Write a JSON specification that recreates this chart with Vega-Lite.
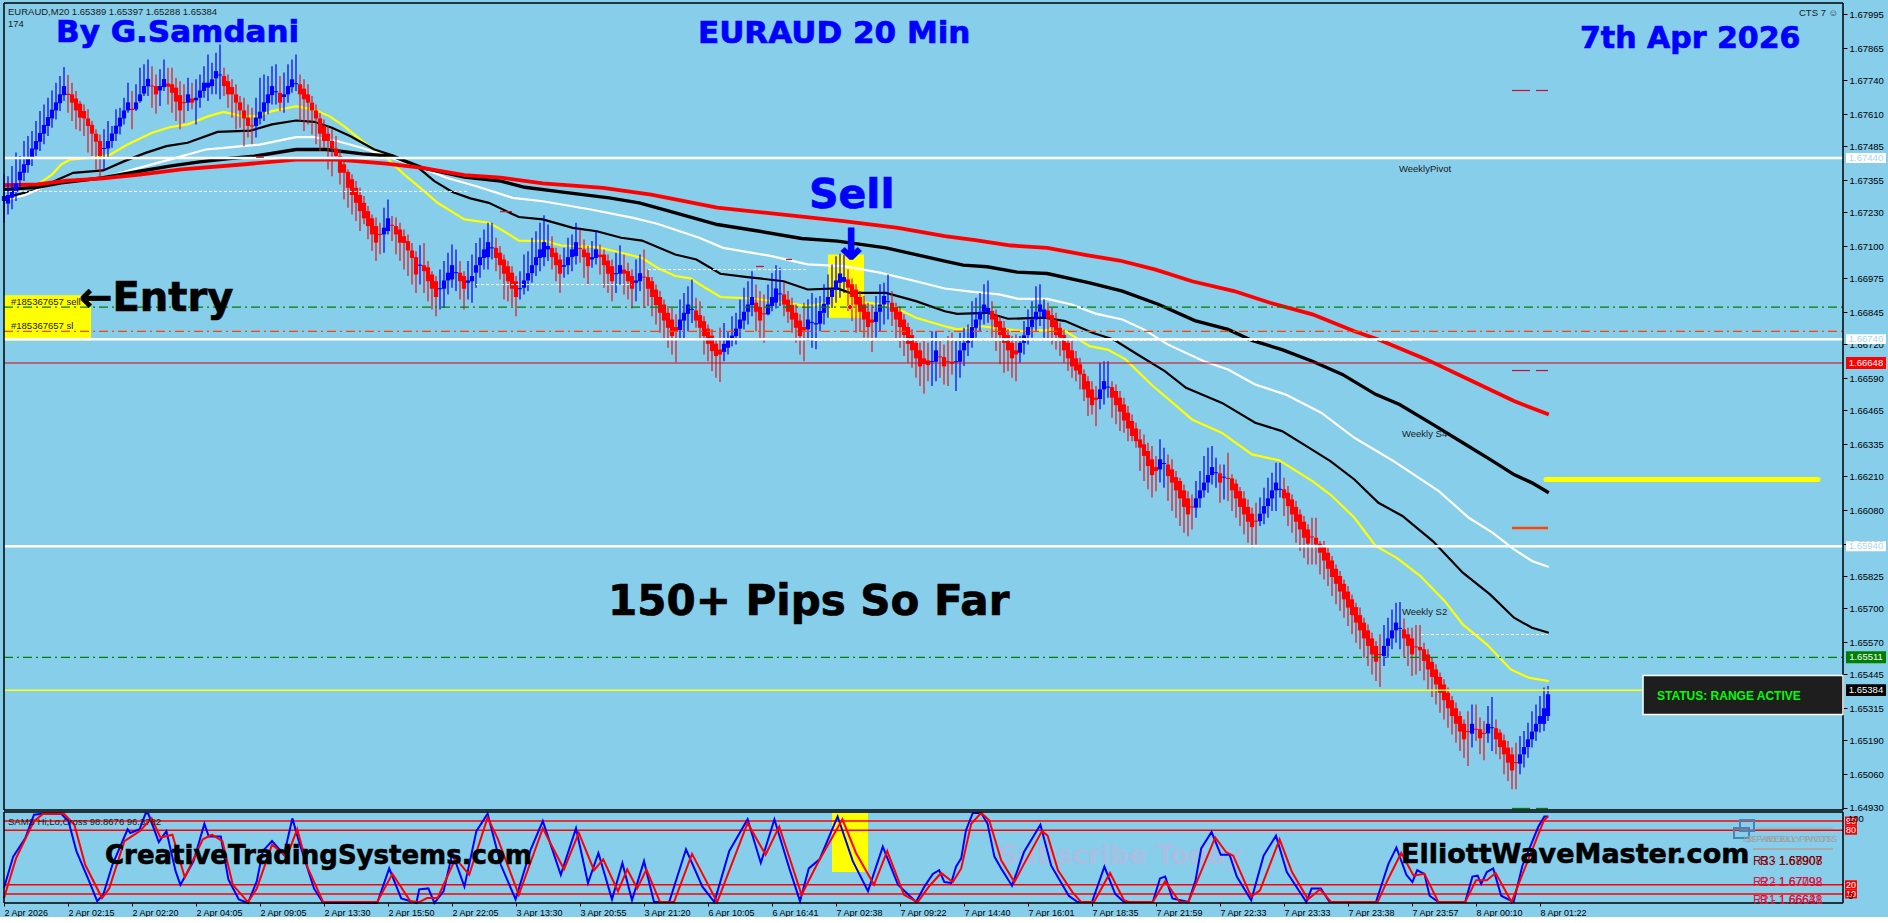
{"background":"#87CEEB","padding":{"left":-4,"top":2,"right":0,"bottom":0},"bounds":"flush","spacing":2,"config":{"view":{"stroke":null}},
"datasets":{
"bars":[{"i":0,"o":1.67274,"c":1.67293,"h":1.67377,"l":1.6719},{"i":1,"o":1.67264,"c":1.67297,"h":1.6737,"l":1.67222},{"i":2,"o":1.67287,"c":1.67315,"h":1.67409,"l":1.67242},{"i":3,"o":1.6731,"c":1.67341,"h":1.67461,"l":1.67274},{"i":4,"o":1.67354,"c":1.67387,"h":1.67448,"l":1.67325},{"i":5,"o":1.67383,"c":1.67416,"h":1.67506,"l":1.67351},{"i":6,"o":1.67413,"c":1.67444,"h":1.67525,"l":1.67383},{"i":7,"o":1.67444,"c":1.67477,"h":1.67544,"l":1.67409},{"i":8,"o":1.67473,"c":1.67506,"h":1.67583,"l":1.67448},{"i":9,"o":1.67503,"c":1.67537,"h":1.67622,"l":1.67467},{"i":10,"o":1.67534,"c":1.67568,"h":1.67647,"l":1.67493},{"i":11,"o":1.67564,"c":1.67598,"h":1.67673,"l":1.67525},{"i":12,"o":1.67593,"c":1.67627,"h":1.67701,"l":1.67557},{"i":13,"o":1.67624,"c":1.67655,"h":1.67731,"l":1.67589},{"i":14,"o":1.67652,"c":1.67686,"h":1.67757,"l":1.67622},{"i":15,"o":1.67683,"c":1.67718,"h":1.67792,"l":1.6766},{"i":16,"o":1.67688,"c":1.67684,"h":1.67761,"l":1.67615},{"i":17,"o":1.67686,"c":1.67654,"h":1.67731,"l":1.67583},{"i":18,"o":1.6767,"c":1.67624,"h":1.67699,"l":1.67551},{"i":19,"o":1.6765,"c":1.67596,"h":1.6766,"l":1.67544},{"i":20,"o":1.67622,"c":1.67593,"h":1.67647,"l":1.67525},{"i":21,"o":1.67593,"c":1.67564,"h":1.67628,"l":1.67461},{"i":22,"o":1.67568,"c":1.67534,"h":1.67583,"l":1.67448},{"i":23,"o":1.67534,"c":1.67503,"h":1.67551,"l":1.67396},{"i":24,"o":1.67506,"c":1.67448,"h":1.67531,"l":1.6737},{"i":25,"o":1.67475,"c":1.67479,"h":1.67551,"l":1.67396},{"i":26,"o":1.67477,"c":1.67506,"h":1.67583,"l":1.67441},{"i":27,"o":1.67506,"c":1.67535,"h":1.67564,"l":1.6748},{"i":28,"o":1.67534,"c":1.67565,"h":1.67628,"l":1.67506},{"i":29,"o":1.67562,"c":1.67596,"h":1.67634,"l":1.67531},{"i":30,"o":1.67593,"c":1.67624,"h":1.67673,"l":1.6757},{"i":31,"o":1.67624,"c":1.67655,"h":1.67731,"l":1.67615},{"i":32,"o":1.6763,"c":1.67626,"h":1.67699,"l":1.67551},{"i":33,"o":1.67628,"c":1.67655,"h":1.67725,"l":1.67622},{"i":34,"o":1.6766,"c":1.67686,"h":1.67789,"l":1.67654},{"i":35,"o":1.67689,"c":1.67718,"h":1.67802,"l":1.6768},{"i":36,"o":1.67717,"c":1.67746,"h":1.67821,"l":1.6768},{"i":37,"o":1.6772,"c":1.67716,"h":1.67795,"l":1.67634},{"i":38,"o":1.67718,"c":1.67686,"h":1.67763,"l":1.67611},{"i":39,"o":1.67701,"c":1.67718,"h":1.67783,"l":1.67641},{"i":40,"o":1.67714,"c":1.67745,"h":1.67821,"l":1.67699},{"i":41,"o":1.67728,"c":1.67716,"h":1.67789,"l":1.67647},{"i":42,"o":1.67725,"c":1.67692,"h":1.67789,"l":1.67615},{"i":43,"o":1.67712,"c":1.67658,"h":1.6775,"l":1.67583},{"i":44,"o":1.67683,"c":1.67624,"h":1.67737,"l":1.67551},{"i":45,"o":1.67656,"c":1.67652,"h":1.67725,"l":1.67576},{"i":46,"o":1.67654,"c":1.67686,"h":1.6775,"l":1.67622},{"i":47,"o":1.6767,"c":1.67654,"h":1.67731,"l":1.67628},{"i":48,"o":1.67663,"c":1.67673,"h":1.67744,"l":1.6757},{"i":49,"o":1.67673,"c":1.67701,"h":1.67763,"l":1.67634},{"i":50,"o":1.67699,"c":1.67731,"h":1.67795,"l":1.67673},{"i":51,"o":1.67712,"c":1.67731,"h":1.6784,"l":1.6766},{"i":52,"o":1.67718,"c":1.67744,"h":1.67808,"l":1.67686},{"i":53,"o":1.67748,"c":1.67776,"h":1.67847,"l":1.67686},{"i":54,"o":1.67759,"c":1.67763,"h":1.67879,"l":1.67667},{"i":55,"o":1.67757,"c":1.67718,"h":1.67789,"l":1.6768},{"i":56,"o":1.67737,"c":1.67686,"h":1.67763,"l":1.67634},{"i":57,"o":1.67714,"c":1.67686,"h":1.67744,"l":1.67596},{"i":58,"o":1.67686,"c":1.67654,"h":1.67725,"l":1.67551},{"i":59,"o":1.67655,"c":1.67624,"h":1.6768,"l":1.67557},{"i":60,"o":1.67624,"c":1.67593,"h":1.67673,"l":1.67486},{"i":61,"o":1.67596,"c":1.67564,"h":1.67647,"l":1.67519},{"i":62,"o":1.67566,"c":1.67562,"h":1.67634,"l":1.67493},{"i":63,"o":1.67564,"c":1.67596,"h":1.67673,"l":1.67519},{"i":64,"o":1.67593,"c":1.67619,"h":1.6775,"l":1.6757},{"i":65,"o":1.67619,"c":1.67655,"h":1.67763,"l":1.67583},{"i":66,"o":1.67652,"c":1.67686,"h":1.67757,"l":1.67609},{"i":67,"o":1.67683,"c":1.67718,"h":1.67795,"l":1.67647},{"i":68,"o":1.67694,"c":1.67698,"h":1.67802,"l":1.67647},{"i":69,"o":1.67692,"c":1.67654,"h":1.67757,"l":1.67622},{"i":70,"o":1.67676,"c":1.67686,"h":1.6777,"l":1.67615},{"i":71,"o":1.67686,"c":1.67718,"h":1.67802,"l":1.67654},{"i":72,"o":1.67714,"c":1.67744,"h":1.67821,"l":1.67692},{"i":73,"o":1.67725,"c":1.67729,"h":1.6784,"l":1.67699},{"i":74,"o":1.67725,"c":1.67686,"h":1.67763,"l":1.67583},{"i":75,"o":1.67708,"c":1.67667,"h":1.67744,"l":1.67544},{"i":76,"o":1.67686,"c":1.67654,"h":1.67725,"l":1.6757},{"i":77,"o":1.67654,"c":1.67624,"h":1.6768,"l":1.67531},{"i":78,"o":1.67624,"c":1.67593,"h":1.67647,"l":1.67493},{"i":79,"o":1.67593,"c":1.67534,"h":1.67615,"l":1.67467},{"i":80,"o":1.67564,"c":1.67506,"h":1.67589,"l":1.6748},{"i":81,"o":1.67534,"c":1.67506,"h":1.67564,"l":1.67396},{"i":82,"o":1.67506,"c":1.67477,"h":1.67551,"l":1.6737},{"i":83,"o":1.67477,"c":1.67448,"h":1.67525,"l":1.67428},{"i":84,"o":1.67448,"c":1.67383,"h":1.67473,"l":1.67338},{"i":85,"o":1.67416,"c":1.67383,"h":1.67428,"l":1.6728},{"i":86,"o":1.67386,"c":1.67325,"h":1.67396,"l":1.67248},{"i":87,"o":1.67358,"c":1.67297,"h":1.67377,"l":1.67222},{"i":88,"o":1.67325,"c":1.67267,"h":1.67351,"l":1.67197},{"i":89,"o":1.67297,"c":1.67235,"h":1.67325,"l":1.67158},{"i":90,"o":1.67267,"c":1.67207,"h":1.67293,"l":1.67184},{"i":91,"o":1.67235,"c":1.67177,"h":1.67255,"l":1.67126},{"i":92,"o":1.67207,"c":1.67145,"h":1.67222,"l":1.67081},{"i":93,"o":1.67177,"c":1.67113,"h":1.6721,"l":1.67042},{"i":94,"o":1.67147,"c":1.67143,"h":1.6719,"l":1.67068},{"i":95,"o":1.67145,"c":1.67171,"h":1.67248,"l":1.67074},{"i":96,"o":1.67158,"c":1.67207,"h":1.6728,"l":1.67145},{"i":97,"o":1.67182,"c":1.67178,"h":1.67216,"l":1.67119},{"i":98,"o":1.67177,"c":1.67145,"h":1.6721,"l":1.67068},{"i":99,"o":1.67164,"c":1.67113,"h":1.6719,"l":1.67042},{"i":100,"o":1.67138,"c":1.67112,"h":1.67164,"l":1.67009},{"i":101,"o":1.67119,"c":1.67083,"h":1.67145,"l":1.66984},{"i":102,"o":1.67083,"c":1.67054,"h":1.67112,"l":1.66951},{"i":103,"o":1.67057,"c":1.6699,"h":1.6708,"l":1.66919},{"i":104,"o":1.67024,"c":1.67028,"h":1.67103,"l":1.66951},{"i":105,"o":1.67026,"c":1.67003,"h":1.67112,"l":1.66919},{"i":106,"o":1.67018,"c":1.66964,"h":1.67042,"l":1.66887},{"i":107,"o":1.6699,"c":1.66935,"h":1.67003,"l":1.66855},{"i":108,"o":1.66964,"c":1.66903,"h":1.66984,"l":1.66829},{"i":109,"o":1.66933,"c":1.66937,"h":1.67009,"l":1.66855},{"i":110,"o":1.66935,"c":1.66967,"h":1.67042,"l":1.66861},{"i":111,"o":1.66967,"c":1.66997,"h":1.67074,"l":1.66913},{"i":112,"o":1.66971,"c":1.67026,"h":1.67106,"l":1.66939},{"i":113,"o":1.66995,"c":1.66999,"h":1.67087,"l":1.66926},{"i":114,"o":1.66997,"c":1.66964,"h":1.67042,"l":1.66893},{"i":115,"o":1.66984,"c":1.66935,"h":1.67003,"l":1.66855},{"i":116,"o":1.66958,"c":1.66967,"h":1.67042,"l":1.66893},{"i":117,"o":1.66964,"c":1.66984,"h":1.67067,"l":1.66881},{"i":118,"o":1.66997,"c":1.67026,"h":1.67112,"l":1.66939},{"i":119,"o":1.67026,"c":1.67057,"h":1.67132,"l":1.66977},{"i":120,"o":1.67054,"c":1.67087,"h":1.67164,"l":1.67009},{"i":121,"o":1.67057,"c":1.67115,"h":1.6719,"l":1.67009},{"i":122,"o":1.67091,"c":1.67095,"h":1.6719,"l":1.67048},{"i":123,"o":1.67093,"c":1.67054,"h":1.67132,"l":1.67003},{"i":124,"o":1.67074,"c":1.67026,"h":1.671,"l":1.66971},{"i":125,"o":1.67048,"c":1.66993,"h":1.67067,"l":1.66893},{"i":126,"o":1.67022,"c":1.66964,"h":1.67042,"l":1.66887},{"i":127,"o":1.66997,"c":1.66935,"h":1.67022,"l":1.66868},{"i":128,"o":1.66964,"c":1.66903,"h":1.66984,"l":1.66829},{"i":129,"o":1.66933,"c":1.66937,"h":1.67003,"l":1.66893},{"i":130,"o":1.66939,"c":1.66967,"h":1.67067,"l":1.66913},{"i":131,"o":1.66967,"c":1.66995,"h":1.6708,"l":1.66926},{"i":132,"o":1.66995,"c":1.67026,"h":1.67132,"l":1.66958},{"i":133,"o":1.67026,"c":1.67057,"h":1.67157,"l":1.66984},{"i":134,"o":1.67054,"c":1.67087,"h":1.6719,"l":1.67003},{"i":135,"o":1.67057,"c":1.67115,"h":1.67219,"l":1.67022},{"i":136,"o":1.67087,"c":1.671,"h":1.67183,"l":1.67042},{"i":137,"o":1.67093,"c":1.67057,"h":1.67138,"l":1.67009},{"i":138,"o":1.67074,"c":1.67026,"h":1.67093,"l":1.66964},{"i":139,"o":1.67048,"c":1.66993,"h":1.67067,"l":1.66919},{"i":140,"o":1.6702,"c":1.67026,"h":1.67093,"l":1.66977},{"i":141,"o":1.67026,"c":1.67057,"h":1.67132,"l":1.6699},{"i":142,"o":1.67057,"c":1.67087,"h":1.67145,"l":1.67003},{"i":143,"o":1.67061,"c":1.67115,"h":1.6719,"l":1.67029},{"i":144,"o":1.67092,"c":1.67088,"h":1.67164,"l":1.67035},{"i":145,"o":1.67087,"c":1.67057,"h":1.67125,"l":1.66977},{"i":146,"o":1.67074,"c":1.67022,"h":1.671,"l":1.66949},{"i":147,"o":1.67048,"c":1.67057,"h":1.67119,"l":1.67016},{"i":148,"o":1.67054,"c":1.67087,"h":1.6716,"l":1.67029},{"i":149,"o":1.67067,"c":1.67057,"h":1.67106,"l":1.6699},{"i":150,"o":1.67067,"c":1.67026,"h":1.67087,"l":1.66939},{"i":151,"o":1.67044,"c":1.66993,"h":1.67067,"l":1.66919},{"i":152,"o":1.67022,"c":1.66964,"h":1.67048,"l":1.66887},{"i":153,"o":1.66991,"c":1.66995,"h":1.67074,"l":1.66919},{"i":154,"o":1.66993,"c":1.67026,"h":1.67103,"l":1.66951},{"i":155,"o":1.67009,"c":1.66993,"h":1.67067,"l":1.66913},{"i":156,"o":1.67003,"c":1.66964,"h":1.67035,"l":1.66893},{"i":157,"o":1.66984,"c":1.66935,"h":1.67009,"l":1.66859},{"i":158,"o":1.66958,"c":1.66967,"h":1.67048,"l":1.66887},{"i":159,"o":1.66964,"c":1.66995,"h":1.67067,"l":1.66926},{"i":160,"o":1.66982,"c":1.66978,"h":1.67087,"l":1.66861},{"i":161,"o":1.6698,"c":1.66935,"h":1.67009,"l":1.66868},{"i":162,"o":1.66964,"c":1.66903,"h":1.6698,"l":1.66829},{"i":163,"o":1.66932,"c":1.66872,"h":1.66951,"l":1.66797},{"i":164,"o":1.66903,"c":1.66842,"h":1.66926,"l":1.66765},{"i":165,"o":1.66874,"c":1.66812,"h":1.66893,"l":1.66739},{"i":166,"o":1.66842,"c":1.66784,"h":1.66868,"l":1.66707},{"i":167,"o":1.66816,"c":1.66752,"h":1.66861,"l":1.66681},{"i":168,"o":1.66787,"c":1.66769,"h":1.66836,"l":1.66651},{"i":169,"o":1.66776,"c":1.66816,"h":1.66893,"l":1.66739},{"i":170,"o":1.66812,"c":1.66842,"h":1.66919,"l":1.66745},{"i":171,"o":1.66838,"c":1.66874,"h":1.66945,"l":1.66771},{"i":172,"o":1.66853,"c":1.66857,"h":1.66971,"l":1.66803},{"i":173,"o":1.66851,"c":1.66812,"h":1.669,"l":1.66784},{"i":174,"o":1.66833,"c":1.66784,"h":1.66887,"l":1.66745},{"i":175,"o":1.6681,"c":1.66752,"h":1.66829,"l":1.66681},{"i":176,"o":1.66781,"c":1.66722,"h":1.66797,"l":1.66655},{"i":177,"o":1.66754,"c":1.66694,"h":1.66778,"l":1.66617},{"i":178,"o":1.66723,"c":1.66675,"h":1.66745,"l":1.66591},{"i":179,"o":1.667,"c":1.66681,"h":1.66784,"l":1.66575},{"i":180,"o":1.66691,"c":1.66722,"h":1.66803,"l":1.66655},{"i":181,"o":1.66707,"c":1.66739,"h":1.66771,"l":1.66681},{"i":182,"o":1.66739,"c":1.66754,"h":1.66829,"l":1.66713},{"i":183,"o":1.66752,"c":1.66781,"h":1.66842,"l":1.6672},{"i":184,"o":1.66781,"c":1.66816,"h":1.66893,"l":1.66745},{"i":185,"o":1.66812,"c":1.66846,"h":1.66939,"l":1.66778},{"i":186,"o":1.66846,"c":1.66874,"h":1.66964,"l":1.66797},{"i":187,"o":1.66872,"c":1.66903,"h":1.67003,"l":1.66829},{"i":188,"o":1.66881,"c":1.66846,"h":1.66951,"l":1.66771},{"i":189,"o":1.66864,"c":1.66812,"h":1.66926,"l":1.66739},{"i":190,"o":1.6684,"c":1.66836,"h":1.66913,"l":1.66726},{"i":191,"o":1.66836,"c":1.66874,"h":1.66951,"l":1.66833},{"i":192,"o":1.66868,"c":1.66903,"h":1.66996,"l":1.66848},{"i":193,"o":1.66881,"c":1.66936,"h":1.67026,"l":1.66859},{"i":194,"o":1.66913,"c":1.66917,"h":1.67016,"l":1.66868},{"i":195,"o":1.66913,"c":1.66874,"h":1.66958,"l":1.66829},{"i":196,"o":1.66893,"c":1.66846,"h":1.66926,"l":1.66803},{"i":197,"o":1.66872,"c":1.66816,"h":1.669,"l":1.66765},{"i":198,"o":1.66842,"c":1.66784,"h":1.66874,"l":1.66726},{"i":199,"o":1.66812,"c":1.66752,"h":1.66836,"l":1.66681},{"i":200,"o":1.66787,"c":1.66774,"h":1.66881,"l":1.66655},{"i":201,"o":1.66778,"c":1.66816,"h":1.66894,"l":1.66733},{"i":202,"o":1.66802,"c":1.66806,"h":1.66919,"l":1.66707},{"i":203,"o":1.66797,"c":1.66802,"h":1.669,"l":1.66701},{"i":204,"o":1.668,"c":1.66849,"h":1.66907,"l":1.66771},{"i":205,"o":1.66842,"c":1.66877,"h":1.66952,"l":1.66797},{"i":206,"o":1.66874,"c":1.66903,"h":1.6699,"l":1.66823},{"i":207,"o":1.66903,"c":1.66932,"h":1.67029,"l":1.66861},{"i":208,"o":1.66932,"c":1.66967,"h":1.67061,"l":1.66881},{"i":209,"o":1.66958,"c":1.66994,"h":1.6707,"l":1.669},{"i":210,"o":1.66962,"c":1.6698,"h":1.67065,"l":1.66919},{"i":211,"o":1.66971,"c":1.66939,"h":1.6701,"l":1.66849},{"i":212,"o":1.66952,"c":1.66903,"h":1.66975,"l":1.6681},{"i":213,"o":1.66932,"c":1.66874,"h":1.66952,"l":1.66765},{"i":214,"o":1.66903,"c":1.66846,"h":1.66926,"l":1.66771},{"i":215,"o":1.66874,"c":1.66816,"h":1.66907,"l":1.66746},{"i":216,"o":1.66846,"c":1.66787,"h":1.66881,"l":1.66746},{"i":217,"o":1.66816,"c":1.66804,"h":1.66874,"l":1.66691},{"i":218,"o":1.66807,"c":1.66846,"h":1.66907,"l":1.66746},{"i":219,"o":1.66846,"c":1.66874,"h":1.66952,"l":1.66771},{"i":220,"o":1.66874,"c":1.66907,"h":1.66958,"l":1.66797},{"i":221,"o":1.66883,"c":1.66887,"h":1.6699,"l":1.66816},{"i":222,"o":1.66881,"c":1.66846,"h":1.66926,"l":1.66791},{"i":223,"o":1.66864,"c":1.66816,"h":1.66881,"l":1.66739},{"i":224,"o":1.66846,"c":1.66787,"h":1.66868,"l":1.66707},{"i":225,"o":1.66816,"c":1.66756,"h":1.66836,"l":1.66675},{"i":226,"o":1.66787,"c":1.66722,"h":1.66804,"l":1.66649},{"i":227,"o":1.66756,"c":1.66697,"h":1.66778,"l":1.6663},{"i":228,"o":1.66726,"c":1.66666,"h":1.66746,"l":1.66591},{"i":229,"o":1.66697,"c":1.66635,"h":1.66726,"l":1.66559},{"i":230,"o":1.66666,"c":1.66645,"h":1.66733,"l":1.66529},{"i":231,"o":1.66658,"c":1.6664,"h":1.66726,"l":1.66578},{"i":232,"o":1.66651,"c":1.66655,"h":1.66771,"l":1.66559},{"i":233,"o":1.66653,"c":1.66697,"h":1.66771,"l":1.66578},{"i":234,"o":1.66674,"c":1.6667,"h":1.66733,"l":1.66591},{"i":235,"o":1.66671,"c":1.66635,"h":1.6672,"l":1.66565},{"i":236,"o":1.66655,"c":1.66651,"h":1.66752,"l":1.66559},{"i":237,"o":1.66653,"c":1.66645,"h":1.66765,"l":1.66604},{"i":238,"o":1.66651,"c":1.66655,"h":1.66739,"l":1.6654},{"i":239,"o":1.66653,"c":1.66697,"h":1.66765,"l":1.66591},{"i":240,"o":1.66697,"c":1.66726,"h":1.66784,"l":1.66636},{"i":241,"o":1.66726,"c":1.66739,"h":1.66797,"l":1.66675},{"i":242,"o":1.66739,"c":1.66787,"h":1.66887,"l":1.66707},{"i":243,"o":1.66784,"c":1.66816,"h":1.669,"l":1.66746},{"i":244,"o":1.66816,"c":1.66846,"h":1.66919,"l":1.66771},{"i":245,"o":1.66846,"c":1.66874,"h":1.66952,"l":1.66797},{"i":246,"o":1.66842,"c":1.66861,"h":1.66967,"l":1.66804},{"i":247,"o":1.66849,"c":1.66816,"h":1.66887,"l":1.66746},{"i":248,"o":1.66833,"c":1.66787,"h":1.66855,"l":1.66694},{"i":249,"o":1.6681,"c":1.66756,"h":1.66829,"l":1.66643},{"i":250,"o":1.66784,"c":1.66726,"h":1.6681,"l":1.6661},{"i":251,"o":1.66756,"c":1.66697,"h":1.66778,"l":1.66617},{"i":252,"o":1.66726,"c":1.66666,"h":1.66752,"l":1.66591},{"i":253,"o":1.66697,"c":1.66681,"h":1.66758,"l":1.66578},{"i":254,"o":1.66688,"c":1.66726,"h":1.66752,"l":1.66649},{"i":255,"o":1.66726,"c":1.66755,"h":1.6681,"l":1.66681},{"i":256,"o":1.66756,"c":1.66787,"h":1.66855,"l":1.6672},{"i":257,"o":1.66787,"c":1.66816,"h":1.66887,"l":1.66746},{"i":258,"o":1.66816,"c":1.66846,"h":1.66945,"l":1.66771},{"i":259,"o":1.66846,"c":1.66874,"h":1.66952,"l":1.66791},{"i":260,"o":1.66825,"c":1.66855,"h":1.66894,"l":1.66746},{"i":261,"o":1.66851,"c":1.6682,"h":1.66881,"l":1.66739},{"i":262,"o":1.66833,"c":1.66787,"h":1.66861,"l":1.6672},{"i":263,"o":1.6681,"c":1.66756,"h":1.66842,"l":1.667},{"i":264,"o":1.66784,"c":1.66746,"h":1.66804,"l":1.66675},{"i":265,"o":1.66756,"c":1.66697,"h":1.66778,"l":1.66649},{"i":266,"o":1.66726,"c":1.66666,"h":1.66746,"l":1.66617},{"i":267,"o":1.66697,"c":1.66635,"h":1.66733,"l":1.66591},{"i":268,"o":1.66666,"c":1.66619,"h":1.66694,"l":1.66578},{"i":269,"o":1.66643,"c":1.66604,"h":1.66668,"l":1.66546},{"i":270,"o":1.66606,"c":1.66546,"h":1.66623,"l":1.66501},{"i":271,"o":1.66578,"c":1.66514,"h":1.66597,"l":1.66443},{"i":272,"o":1.66546,"c":1.66485,"h":1.66578,"l":1.66449},{"i":273,"o":1.66514,"c":1.66506,"h":1.66559,"l":1.66404},{"i":274,"o":1.66509,"c":1.66546,"h":1.66649,"l":1.66469},{"i":275,"o":1.66546,"c":1.66578,"h":1.66655,"l":1.66488},{"i":276,"o":1.66553,"c":1.66557,"h":1.66655,"l":1.66514},{"i":277,"o":1.66555,"c":1.66514,"h":1.66578,"l":1.66437},{"i":278,"o":1.6654,"c":1.66485,"h":1.66565,"l":1.66411},{"i":279,"o":1.66514,"c":1.6646,"h":1.6654,"l":1.66385},{"i":280,"o":1.66488,"c":1.66426,"h":1.66514,"l":1.66379},{"i":281,"o":1.66456,"c":1.66395,"h":1.66482,"l":1.66346},{"i":282,"o":1.66424,"c":1.66366,"h":1.66449,"l":1.66346},{"i":283,"o":1.66395,"c":1.66346,"h":1.66417,"l":1.66321},{"i":284,"o":1.66353,"c":1.66321,"h":1.66392,"l":1.66231},{"i":285,"o":1.66334,"c":1.66289,"h":1.66372,"l":1.66192},{"i":286,"o":1.66308,"c":1.6625,"h":1.6634,"l":1.6616},{"i":287,"o":1.66276,"c":1.66215,"h":1.66327,"l":1.66128},{"i":288,"o":1.66246,"c":1.66231,"h":1.66289,"l":1.66153},{"i":289,"o":1.66237,"c":1.66276,"h":1.66353,"l":1.66186},{"i":290,"o":1.66258,"c":1.66262,"h":1.66321,"l":1.66166},{"i":291,"o":1.66256,"c":1.66211,"h":1.66295,"l":1.66115},{"i":292,"o":1.66237,"c":1.66186,"h":1.66276,"l":1.66076},{"i":293,"o":1.66207,"c":1.66156,"h":1.66231,"l":1.6605},{"i":294,"o":1.66192,"c":1.66125,"h":1.66205,"l":1.66018},{"i":295,"o":1.66156,"c":1.66092,"h":1.66179,"l":1.65992},{"i":296,"o":1.66125,"c":1.66063,"h":1.66153,"l":1.65979},{"i":297,"o":1.66094,"c":1.6609,"h":1.6614,"l":1.66005},{"i":298,"o":1.66089,"c":1.66125,"h":1.66192,"l":1.6605},{"i":299,"o":1.66125,"c":1.66156,"h":1.66231,"l":1.66089},{"i":300,"o":1.66156,"c":1.66186,"h":1.66289,"l":1.66128},{"i":301,"o":1.66186,"c":1.66215,"h":1.66321,"l":1.66147},{"i":302,"o":1.66215,"c":1.66246,"h":1.66327,"l":1.66179},{"i":303,"o":1.66222,"c":1.66226,"h":1.66282,"l":1.66166},{"i":304,"o":1.66222,"c":1.66186,"h":1.66256,"l":1.66108},{"i":305,"o":1.66205,"c":1.66209,"h":1.66256,"l":1.66121},{"i":306,"o":1.66204,"c":1.662,"h":1.66301,"l":1.66115},{"i":307,"o":1.66202,"c":1.66156,"h":1.66218,"l":1.66076},{"i":308,"o":1.66182,"c":1.66125,"h":1.66198,"l":1.6605},{"i":309,"o":1.66153,"c":1.66092,"h":1.66169,"l":1.66018},{"i":310,"o":1.66125,"c":1.66063,"h":1.66153,"l":1.65986},{"i":311,"o":1.66092,"c":1.66035,"h":1.66121,"l":1.65954},{"i":312,"o":1.66066,"c":1.66014,"h":1.66089,"l":1.65934},{"i":313,"o":1.66039,"c":1.66035,"h":1.66108,"l":1.65947},{"i":314,"o":1.66037,"c":1.66066,"h":1.66128,"l":1.66018},{"i":315,"o":1.66066,"c":1.66095,"h":1.66166,"l":1.66025},{"i":316,"o":1.66095,"c":1.66125,"h":1.66205,"l":1.6605},{"i":317,"o":1.66125,"c":1.66156,"h":1.66224,"l":1.66076},{"i":318,"o":1.66156,"c":1.66186,"h":1.66263,"l":1.66076},{"i":319,"o":1.66158,"c":1.66162,"h":1.66263,"l":1.66128},{"i":320,"o":1.6616,"c":1.66125,"h":1.66205,"l":1.66057},{"i":321,"o":1.66147,"c":1.66095,"h":1.66173,"l":1.66018},{"i":322,"o":1.66121,"c":1.66063,"h":1.6614,"l":1.65992},{"i":323,"o":1.66092,"c":1.66035,"h":1.66115,"l":1.65954},{"i":324,"o":1.66063,"c":1.66005,"h":1.66082,"l":1.65922},{"i":325,"o":1.66035,"c":1.65973,"h":1.66057,"l":1.65896},{"i":326,"o":1.66005,"c":1.6595,"h":1.66025,"l":1.6587},{"i":327,"o":1.65978,"c":1.65974,"h":1.6605,"l":1.6587},{"i":328,"o":1.65973,"c":1.65947,"h":1.6605,"l":1.6587},{"i":329,"o":1.6595,"c":1.65915,"h":1.6596,"l":1.65831},{"i":330,"o":1.65945,"c":1.65885,"h":1.6596,"l":1.65812},{"i":331,"o":1.65915,"c":1.65853,"h":1.65934,"l":1.65786},{"i":332,"o":1.65885,"c":1.65821,"h":1.65902,"l":1.65748},{"i":333,"o":1.65853,"c":1.65795,"h":1.6587,"l":1.65716},{"i":334,"o":1.65825,"c":1.65765,"h":1.65844,"l":1.6569},{"i":335,"o":1.65795,"c":1.65735,"h":1.65812,"l":1.65664},{"i":336,"o":1.65765,"c":1.65703,"h":1.65786,"l":1.65632},{"i":337,"o":1.65735,"c":1.65674,"h":1.65754,"l":1.656},{"i":338,"o":1.65705,"c":1.65645,"h":1.65722,"l":1.65567},{"i":339,"o":1.65674,"c":1.65615,"h":1.65703,"l":1.65542},{"i":340,"o":1.65645,"c":1.65584,"h":1.65664,"l":1.65509},{"i":341,"o":1.65615,"c":1.65555,"h":1.65638,"l":1.65477},{"i":342,"o":1.65584,"c":1.65522,"h":1.65606,"l":1.65445},{"i":343,"o":1.65555,"c":1.65494,"h":1.65574,"l":1.65419},{"i":344,"o":1.65524,"c":1.6552,"h":1.656,"l":1.65396},{"i":345,"o":1.65516,"c":1.65555,"h":1.65636,"l":1.65477},{"i":346,"o":1.65555,"c":1.65584,"h":1.65664,"l":1.65509},{"i":347,"o":1.65584,"c":1.65615,"h":1.65696,"l":1.65542},{"i":348,"o":1.65615,"c":1.65645,"h":1.65722,"l":1.65567},{"i":349,"o":1.65621,"c":1.65625,"h":1.65725,"l":1.65542},{"i":350,"o":1.65619,"c":1.65584,"h":1.65661,"l":1.65509},{"i":351,"o":1.656,"c":1.65555,"h":1.65625,"l":1.65477},{"i":352,"o":1.65584,"c":1.65522,"h":1.65625,"l":1.65439},{"i":353,"o":1.65553,"c":1.65549,"h":1.65636,"l":1.65445},{"i":354,"o":1.65551,"c":1.65538,"h":1.65636,"l":1.65458},{"i":355,"o":1.65542,"c":1.65497,"h":1.65567,"l":1.65422},{"i":356,"o":1.65522,"c":1.65464,"h":1.65542,"l":1.65387},{"i":357,"o":1.65493,"c":1.65435,"h":1.65509,"l":1.65358},{"i":358,"o":1.65464,"c":1.65406,"h":1.65484,"l":1.65329},{"i":359,"o":1.65435,"c":1.65374,"h":1.65452,"l":1.65297},{"i":360,"o":1.65406,"c":1.65345,"h":1.65426,"l":1.65271},{"i":361,"o":1.65374,"c":1.65314,"h":1.65394,"l":1.65239},{"i":362,"o":1.65345,"c":1.65284,"h":1.65361,"l":1.65213},{"i":363,"o":1.65314,"c":1.65254,"h":1.65336,"l":1.65181},{"i":364,"o":1.65284,"c":1.65224,"h":1.65303,"l":1.65149},{"i":365,"o":1.65254,"c":1.65194,"h":1.65271,"l":1.65123},{"i":366,"o":1.65226,"c":1.65222,"h":1.65303,"l":1.65091},{"i":367,"o":1.65216,"c":1.65254,"h":1.65329,"l":1.65162},{"i":368,"o":1.65235,"c":1.65231,"h":1.65329,"l":1.65188},{"i":369,"o":1.65233,"c":1.65198,"h":1.65278,"l":1.65136},{"i":370,"o":1.65219,"c":1.65215,"h":1.65265,"l":1.65113},{"i":371,"o":1.65217,"c":1.65254,"h":1.65323,"l":1.65181},{"i":372,"o":1.65237,"c":1.65241,"h":1.65358,"l":1.65149},{"i":373,"o":1.65237,"c":1.65194,"h":1.65271,"l":1.65136},{"i":374,"o":1.6522,"c":1.65164,"h":1.65233,"l":1.65117},{"i":375,"o":1.6519,"c":1.65136,"h":1.65213,"l":1.65059},{"i":376,"o":1.65162,"c":1.65104,"h":1.65188,"l":1.65033},{"i":377,"o":1.65136,"c":1.65074,"h":1.65162,"l":1.65001},{"i":378,"o":1.65106,"c":1.65102,"h":1.65181,"l":1.65001},{"i":379,"o":1.651,"c":1.65136,"h":1.65207,"l":1.65059},{"i":380,"o":1.65136,"c":1.65164,"h":1.65226,"l":1.65085},{"i":381,"o":1.65164,"c":1.65194,"h":1.65258,"l":1.65123},{"i":382,"o":1.65194,"c":1.65224,"h":1.65303,"l":1.65162},{"i":383,"o":1.65224,"c":1.65254,"h":1.65329,"l":1.65188},{"i":384,"o":1.65254,"c":1.65284,"h":1.65361,"l":1.6522},{"i":385,"o":1.65254,"c":1.65314,"h":1.65394,"l":1.65226},{"i":386,"o":1.65284,"c":1.65368,"h":1.654,"l":1.65265}],
"mas":[{"s":"a","i":5.3,"p":1.67318},{"s":"a","i":9,"p":1.67344},{"s":"a","i":12,"p":1.67376},{"s":"a","i":14.3,"p":1.67415},{"s":"a","i":16.6,"p":1.67434},{"s":"a","i":21.8,"p":1.67441},{"s":"a","i":26.3,"p":1.67451},{"s":"a","i":30.9,"p":1.67492},{"s":"a","i":36.9,"p":1.67537},{"s":"a","i":41.4,"p":1.67559},{"s":"a","i":45.9,"p":1.6757},{"s":"a","i":51.2,"p":1.67602},{"s":"a","i":54.9,"p":1.67618},{"s":"a","i":59.5,"p":1.67602},{"s":"a","i":63.2,"p":1.67602},{"s":"a","i":67,"p":1.67621},{"s":"a","i":73,"p":1.6764},{"s":"a","i":77.5,"p":1.67627},{"s":"a","i":81.3,"p":1.67602},{"s":"a","i":85,"p":1.67563},{"s":"a","i":89.6,"p":1.67505},{"s":"a","i":95.6,"p":1.67441},{"s":"a","i":100.1,"p":1.67376},{"s":"a","i":104.6,"p":1.67318},{"s":"a","i":108.4,"p":1.67267},{"s":"a","i":115.1,"p":1.67203},{"s":"a","i":121.2,"p":1.6719},{"s":"a","i":124.9,"p":1.67158},{"s":"a","i":128.7,"p":1.67121},{"s":"a","i":135.5,"p":1.67119},{"s":"a","i":139.2,"p":1.67102},{"s":"a","i":148.2,"p":1.67096},{"s":"a","i":154.3,"p":1.67074},{"s":"a","i":159.5,"p":1.67054},{"s":"a","i":163.3,"p":1.67016},{"s":"a","i":167.8,"p":1.66984},{"s":"a","i":171.6,"p":1.66975},{"s":"a","i":175.3,"p":1.66939},{"s":"a","i":179.1,"p":1.66903},{"s":"a","i":187.4,"p":1.66897},{"s":"a","i":194.9,"p":1.66881},{"s":"a","i":200.9,"p":1.66868},{"s":"a","i":206.2,"p":1.66881},{"s":"a","i":213,"p":1.66887},{"s":"a","i":222,"p":1.66868},{"s":"a","i":228,"p":1.66823},{"s":"a","i":235.2,"p":1.6679},{"s":"a","i":238.3,"p":1.66778},{"s":"a","i":244.3,"p":1.6679},{"s":"a","i":254.8,"p":1.66771},{"s":"a","i":264.6,"p":1.66778},{"s":"a","i":271.4,"p":1.66713},{"s":"a","i":275.9,"p":1.667},{"s":"a","i":280.4,"p":1.66662},{"s":"a","i":287.2,"p":1.66559},{"s":"a","i":291.7,"p":1.66501},{"s":"a","i":297,"p":1.6643},{"s":"a","i":304.5,"p":1.66378},{"s":"a","i":312,"p":1.66295},{"s":"a","i":318.8,"p":1.66272},{"s":"a","i":327.1,"p":1.66192},{"s":"a","i":331.6,"p":1.6614},{"s":"a","i":337.6,"p":1.6605},{"s":"a","i":342.9,"p":1.65941},{"s":"a","i":348.1,"p":1.65896},{"s":"a","i":354.1,"p":1.65825},{"s":"a","i":360.2,"p":1.65728},{"s":"a","i":364.7,"p":1.65638},{"s":"a","i":370.7,"p":1.65561},{"s":"a","i":376.7,"p":1.65464},{"s":"a","i":381.2,"p":1.65432},{"s":"a","i":386.2,"p":1.65419},
{"s":"b","i":0,"p":1.67286},{"s":"b","i":8.3,"p":1.67318},{"s":"b","i":13.5,"p":1.67357},{"s":"b","i":17.3,"p":1.67383},{"s":"b","i":24.8,"p":1.67392},{"s":"b","i":30.1,"p":1.67428},{"s":"b","i":35.4,"p":1.6746},{"s":"b","i":40.6,"p":1.67486},{"s":"b","i":45.9,"p":1.67499},{"s":"b","i":53.4,"p":1.67541},{"s":"b","i":61.7,"p":1.67546},{"s":"b","i":67,"p":1.6757},{"s":"b","i":73,"p":1.67585},{"s":"b","i":77.5,"p":1.6758},{"s":"b","i":82,"p":1.67557},{"s":"b","i":86.5,"p":1.67525},{"s":"b","i":92.6,"p":1.67473},{"s":"b","i":97.1,"p":1.67451},{"s":"b","i":103.1,"p":1.67409},{"s":"b","i":107.6,"p":1.67351},{"s":"b","i":112.1,"p":1.67309},{"s":"b","i":116.6,"p":1.67284},{"s":"b","i":121.2,"p":1.67267},{"s":"b","i":128.7,"p":1.67212},{"s":"b","i":134.7,"p":1.67203},{"s":"b","i":142.2,"p":1.6717},{"s":"b","i":148.2,"p":1.67157},{"s":"b","i":154.3,"p":1.67132},{"s":"b","i":159.5,"p":1.67121},{"s":"b","i":167.8,"p":1.67067},{"s":"b","i":173.1,"p":1.67048},{"s":"b","i":179.1,"p":1.66993},{"s":"b","i":185.9,"p":1.6698},{"s":"b","i":194.9,"p":1.66964},{"s":"b","i":200.9,"p":1.66932},{"s":"b","i":208.4,"p":1.66936},{"s":"b","i":211.5,"p":1.66919},{"s":"b","i":220.5,"p":1.66919},{"s":"b","i":228,"p":1.66887},{"s":"b","i":235.2,"p":1.66848},{"s":"b","i":238.3,"p":1.66838},{"s":"b","i":245.8,"p":1.66842},{"s":"b","i":251,"p":1.66819},{"s":"b","i":260.1,"p":1.66823},{"s":"b","i":265.3,"p":1.6681},{"s":"b","i":272.1,"p":1.66765},{"s":"b","i":277.4,"p":1.66739},{"s":"b","i":283.4,"p":1.66681},{"s":"b","i":290.2,"p":1.66617},{"s":"b","i":295.5,"p":1.66552},{"s":"b","i":304.5,"p":1.66494},{"s":"b","i":312.8,"p":1.66417},{"s":"b","i":319.5,"p":1.66385},{"s":"b","i":325.6,"p":1.66327},{"s":"b","i":331.6,"p":1.66269},{"s":"b","i":337.6,"p":1.66198},{"s":"b","i":343.6,"p":1.66108},{"s":"b","i":349.6,"p":1.66057},{"s":"b","i":357.2,"p":1.6596},{"s":"b","i":364.7,"p":1.65838},{"s":"b","i":371.5,"p":1.65754},{"s":"b","i":377.5,"p":1.65664},{"s":"b","i":382,"p":1.65625},{"s":"b","i":386.2,"p":1.65606},
{"s":"c","i":0,"p":1.67276},{"s":"c","i":5.3,"p":1.67297},{"s":"c","i":11.3,"p":1.67338},{"s":"c","i":17.3,"p":1.67357},{"s":"c","i":24.8,"p":1.67364},{"s":"c","i":32.4,"p":1.67396},{"s":"c","i":41.4,"p":1.67434},{"s":"c","i":50.4,"p":1.67473},{"s":"c","i":54.9,"p":1.67479},{"s":"c","i":63.9,"p":1.67492},{"s":"c","i":73,"p":1.67521},{"s":"c","i":77.5,"p":1.67521},{"s":"c","i":83.5,"p":1.67505},{"s":"c","i":89.6,"p":1.67479},{"s":"c","i":95.6,"p":1.67447},{"s":"c","i":103.1,"p":1.67409},{"s":"c","i":110.6,"p":1.67364},{"s":"c","i":118.1,"p":1.67331},{"s":"c","i":127.2,"p":1.67286},{"s":"c","i":134.7,"p":1.67273},{"s":"c","i":146.7,"p":1.67241},{"s":"c","i":157.3,"p":1.67209},{"s":"c","i":163.3,"p":1.67186},{"s":"c","i":173.8,"p":1.67132},{"s":"c","i":179.8,"p":1.67093},{"s":"c","i":191.9,"p":1.67061},{"s":"c","i":200.9,"p":1.67029},{"s":"c","i":209.9,"p":1.67022},{"s":"c","i":219,"p":1.66997},{"s":"c","i":228,"p":1.66964},{"s":"c","i":235.2,"p":1.66936},{"s":"c","i":242.8,"p":1.66922},{"s":"c","i":248.8,"p":1.66913},{"s":"c","i":253.3,"p":1.66897},{"s":"c","i":260.8,"p":1.66896},{"s":"c","i":266.9,"p":1.66874},{"s":"c","i":272.9,"p":1.66839},{"s":"c","i":279.6,"p":1.66816},{"s":"c","i":284.9,"p":1.66778},{"s":"c","i":290.9,"p":1.6672},{"s":"c","i":300,"p":1.66655},{"s":"c","i":306,"p":1.66623},{"s":"c","i":312.8,"p":1.66565},{"s":"c","i":320.3,"p":1.66527},{"s":"c","i":329.3,"p":1.66456},{"s":"c","i":337.6,"p":1.66359},{"s":"c","i":347.4,"p":1.66269},{"s":"c","i":358.7,"p":1.66153},{"s":"c","i":366.2,"p":1.6605},{"s":"c","i":372.2,"p":1.65992},{"s":"c","i":377.5,"p":1.65928},{"s":"c","i":382,"p":1.65883},{"s":"c","i":386.2,"p":1.6586},
{"s":"d","i":0,"p":1.67318},{"s":"d","i":8.3,"p":1.67327},{"s":"d","i":14.3,"p":1.67344},{"s":"d","i":24.8,"p":1.67364},{"s":"d","i":33.9,"p":1.67389},{"s":"d","i":41.4,"p":1.67409},{"s":"d","i":48.9,"p":1.67425},{"s":"d","i":56.4,"p":1.67438},{"s":"d","i":62.5,"p":1.67447},{"s":"d","i":73,"p":1.67473},{"s":"d","i":80.5,"p":1.67473},{"s":"d","i":89.6,"p":1.67456},{"s":"d","i":97.1,"p":1.67447},{"s":"d","i":104.6,"p":1.67402},{"s":"d","i":115.1,"p":1.67366},{"s":"d","i":124.2,"p":1.67351},{"s":"d","i":130.2,"p":1.67327},{"s":"d","i":139.2,"p":1.67309},{"s":"d","i":151.3,"p":1.67286},{"s":"d","i":158.8,"p":1.67267},{"s":"d","i":166.3,"p":1.67235},{"s":"d","i":178.3,"p":1.67183},{"s":"d","i":188.9,"p":1.67157},{"s":"d","i":199.4,"p":1.67129},{"s":"d","i":208.4,"p":1.67119},{"s":"d","i":220.5,"p":1.67093},{"s":"d","i":228,"p":1.67067},{"s":"d","i":235.2,"p":1.67042},{"s":"d","i":239.8,"p":1.67026},{"s":"d","i":245.8,"p":1.6702},{"s":"d","i":253.3,"p":1.66999},{"s":"d","i":260.8,"p":1.66994},{"s":"d","i":271.4,"p":1.66958},{"s":"d","i":279.6,"p":1.66926},{"s":"d","i":288.7,"p":1.66874},{"s":"d","i":297.7,"p":1.66812},{"s":"d","i":306,"p":1.66778},{"s":"d","i":312,"p":1.66735},{"s":"d","i":319.5,"p":1.667},{"s":"d","i":327.1,"p":1.66655},{"s":"d","i":334.6,"p":1.66604},{"s":"d","i":342.9,"p":1.66527},{"s":"d","i":348.9,"p":1.66488},{"s":"d","i":357.2,"p":1.66411},{"s":"d","i":364.7,"p":1.6634},{"s":"d","i":372.2,"p":1.66269},{"s":"d","i":377.5,"p":1.66217},{"s":"d","i":382,"p":1.66185},{"s":"d","i":386.2,"p":1.66147},
{"s":"e","i":0,"p":1.67335},{"s":"e","i":8.3,"p":1.67338},{"s":"e","i":15.8,"p":1.67353},{"s":"e","i":24.8,"p":1.67361},{"s":"e","i":33.9,"p":1.67376},{"s":"e","i":44.4,"p":1.67396},{"s":"e","i":59.5,"p":1.67415},{"s":"e","i":73,"p":1.67434},{"s":"e","i":83.5,"p":1.67434},{"s":"e","i":95.6,"p":1.67418},{"s":"e","i":104.6,"p":1.67402},{"s":"e","i":115.1,"p":1.67374},{"s":"e","i":124.2,"p":1.67364},{"s":"e","i":134.7,"p":1.67342},{"s":"e","i":149.8,"p":1.67325},{"s":"e","i":161.8,"p":1.67299},{"s":"e","i":178.3,"p":1.67248},{"s":"e","i":191.9,"p":1.67226},{"s":"e","i":209.9,"p":1.67196},{"s":"e","i":223.5,"p":1.6717},{"s":"e","i":235.2,"p":1.67138},{"s":"e","i":242.8,"p":1.67123},{"s":"e","i":251.8,"p":1.67102},{"s":"e","i":260.8,"p":1.67093},{"s":"e","i":270.6,"p":1.67065},{"s":"e","i":278.9,"p":1.67044},{"s":"e","i":287.9,"p":1.67009},{"s":"e","i":297,"p":1.66964},{"s":"e","i":307.5,"p":1.66926},{"s":"e","i":316.5,"p":1.66881},{"s":"e","i":327.1,"p":1.66836},{"s":"e","i":337.6,"p":1.66771},{"s":"e","i":343.6,"p":1.66739},{"s":"e","i":355.6,"p":1.66662},{"s":"e","i":366.2,"p":1.66584},{"s":"e","i":377.5,"p":1.66501},{"s":"e","i":386.2,"p":1.66449}],
"segs":[{"k":"white","i":0,"b":459.75,"p":1.6744},{"k":"white","i":0,"b":459.75,"p":1.6674},{"k":"white","i":0,"b":459.75,"p":1.6594},{"k":"red","i":0,"b":459.75,"p":1.66648},{"k":"green","i":0,"b":459.75,"p":1.66864},{"k":"green","i":0,"b":459.75,"p":1.65511},{"k":"orange","i":0,"b":459.75,"p":1.6677},{"k":"yellow","i":0,"b":409.75,"p":1.65384},{"k":"dot","i":0,"b":116,"p":1.67311},{"k":"dot","i":161,"b":201,"p":1.67009},{"k":"dot","i":118,"b":157,"p":1.66951},{"k":"dot","i":202.5,"b":352,"p":1.66735},{"k":"dot","i":354.25,"b":386,"p":1.65599},{"k":"crim","i":377,"b":381.5,"p":1.67701},{"k":"crim","i":383,"b":386,"p":1.67701},{"k":"crim","i":377,"b":381.5,"p":1.66619},{"k":"crim","i":383,"b":386,"p":1.66619},{"k":"crim","i":124,"b":127,"p":1.67233},{"k":"crim","i":63,"b":65,"p":1.67443},{"k":"crim","i":188,"b":190,"p":1.67021},{"k":"crim","i":195.5,"b":197,"p":1.67048},{"k":"gsmall","i":377,"b":381.5,"p":1.64927},{"k":"gsmall","i":383,"b":386,"p":1.64927},{"k":"orange2","i":377,"b":386,"p":1.66011},{"k":"yellow2","i":385.5,"b":453.5,"p":1.66198},{"k":"frame","i":0,"b":459.75,"p":1.68039},{"k":"frame","i":0,"b":459.75,"p":1.64921}],
"stoch":[{"s":"blue","i":0,"v":16.5},{"s":"blue","i":2.3,"v":51},{"s":"blue","i":5.3,"v":71},{"s":"blue","i":7.5,"v":97},{"s":"blue","i":9.8,"v":98},{"s":"blue","i":14.3,"v":98},{"s":"blue","i":16.1,"v":90},{"s":"blue","i":18.1,"v":57},{"s":"blue","i":21.1,"v":26},{"s":"blue","i":23.3,"v":2},{"s":"blue","i":24.8,"v":9},{"s":"blue","i":27.1,"v":42},{"s":"blue","i":30.9,"v":81},{"s":"blue","i":31.6,"v":77},{"s":"blue","i":33.9,"v":81},{"s":"blue","i":35.4,"v":98.5},{"s":"blue","i":36.1,"v":98},{"s":"blue","i":38.7,"v":67},{"s":"blue","i":40.6,"v":79},{"s":"blue","i":42.9,"v":35},{"s":"blue","i":44.1,"v":20},{"s":"blue","i":47.4,"v":46},{"s":"blue","i":50.1,"v":87},{"s":"blue","i":51.2,"v":73},{"s":"blue","i":54.2,"v":73},{"s":"blue","i":56.1,"v":26},{"s":"blue","i":58.7,"v":4},{"s":"blue","i":61,"v":0},{"s":"blue","i":63.2,"v":24},{"s":"blue","i":64.7,"v":57},{"s":"blue","i":67,"v":68},{"s":"blue","i":70,"v":53},{"s":"blue","i":72.1,"v":93},{"s":"blue","i":73.7,"v":68},{"s":"blue","i":77.5,"v":16},{"s":"blue","i":79.8,"v":0},{"s":"blue","i":93.3,"v":0},{"s":"blue","i":96.3,"v":38},{"s":"blue","i":99.3,"v":5},{"s":"blue","i":103.1,"v":0},{"s":"blue","i":103.8,"v":15},{"s":"blue","i":106.1,"v":16},{"s":"blue","i":107.6,"v":0},{"s":"blue","i":109.9,"v":13},{"s":"blue","i":112.1,"v":55},{"s":"blue","i":115.1,"v":18},{"s":"blue","i":118.1,"v":79},{"s":"blue","i":120.9,"v":98},{"s":"blue","i":124.2,"v":42},{"s":"blue","i":127.9,"v":4},{"s":"blue","i":131.7,"v":59},{"s":"blue","i":134.7,"v":90},{"s":"blue","i":139.2,"v":31},{"s":"blue","i":143,"v":82},{"s":"blue","i":146,"v":22},{"s":"blue","i":148.6,"v":55},{"s":"blue","i":152,"v":4},{"s":"blue","i":154.6,"v":44},{"s":"blue","i":157,"v":3},{"s":"blue","i":160,"v":46},{"s":"blue","i":162.5,"v":1},{"s":"blue","i":166.3,"v":1},{"s":"blue","i":170.5,"v":59},{"s":"blue","i":174.6,"v":18},{"s":"blue","i":177.6,"v":1},{"s":"blue","i":181.3,"v":57},{"s":"blue","i":185.9,"v":92},{"s":"blue","i":189.2,"v":44},{"s":"blue","i":192.6,"v":92},{"s":"blue","i":196.4,"v":37},{"s":"blue","i":199,"v":2},{"s":"blue","i":201.2,"v":38},{"s":"blue","i":203.9,"v":48},{"s":"blue","i":208.4,"v":95},{"s":"blue","i":212.2,"v":46},{"s":"blue","i":216,"v":13},{"s":"blue","i":219.7,"v":62},{"s":"blue","i":223.5,"v":20},{"s":"blue","i":228,"v":1},{"s":"blue","i":230.1,"v":18},{"s":"blue","i":232.2,"v":32},{"s":"blue","i":233.8,"v":36},{"s":"blue","i":235.1,"v":23},{"s":"blue","i":236.8,"v":22},{"s":"blue","i":238,"v":40},{"s":"blue","i":239.3,"v":49},{"s":"blue","i":240.5,"v":80},{"s":"blue","i":242.2,"v":99},{"s":"blue","i":244.3,"v":99},{"s":"blue","i":245.9,"v":87},{"s":"blue","i":247.6,"v":51},{"s":"blue","i":249.3,"v":38},{"s":"blue","i":252,"v":19},{"s":"blue","i":255,"v":56},{"s":"blue","i":259.1,"v":86},{"s":"blue","i":261.8,"v":41},{"s":"blue","i":266.2,"v":8},{"s":"blue","i":268.4,"v":1},{"s":"blue","i":272,"v":1},{"s":"blue","i":275.1,"v":40},{"s":"blue","i":277.8,"v":10},{"s":"blue","i":280,"v":1},{"s":"blue","i":287.2,"v":1},{"s":"blue","i":289,"v":27},{"s":"blue","i":290.3,"v":29},{"s":"blue","i":292.1,"v":5},{"s":"blue","i":296.1,"v":1},{"s":"blue","i":297.9,"v":25},{"s":"blue","i":299.3,"v":60},{"s":"blue","i":301.9,"v":78},{"s":"blue","i":304.2,"v":53},{"s":"blue","i":306.4,"v":53},{"s":"blue","i":308.2,"v":29},{"s":"blue","i":311.8,"v":3},{"s":"blue","i":314.9,"v":52},{"s":"blue","i":318,"v":74},{"s":"blue","i":320.7,"v":34},{"s":"blue","i":325.6,"v":1},{"s":"blue","i":326.9,"v":16},{"s":"blue","i":329.2,"v":16},{"s":"blue","i":331.4,"v":1},{"s":"blue","i":343,"v":1},{"s":"blue","i":346.1,"v":43},{"s":"blue","i":348.1,"v":61},{"s":"blue","i":350.6,"v":31},{"s":"blue","i":352.1,"v":23},{"s":"blue","i":353.3,"v":36},{"s":"blue","i":355.1,"v":32},{"s":"blue","i":356.4,"v":8},{"s":"blue","i":358.6,"v":1},{"s":"blue","i":365.3,"v":1},{"s":"blue","i":367.1,"v":29},{"s":"blue","i":368.4,"v":30},{"s":"blue","i":369.3,"v":21},{"s":"blue","i":370.7,"v":34},{"s":"blue","i":372.3,"v":38},{"s":"blue","i":374.3,"v":8},{"s":"blue","i":377.4,"v":1},{"s":"blue","i":379.6,"v":41},{"s":"blue","i":383.6,"v":84},{"s":"blue","i":385.1,"v":95},{"s":"blue","i":386.1,"v":95},
{"s":"red","i":0,"v":5.5},{"s":"red","i":3,"v":49},{"s":"red","i":7.5,"v":90},{"s":"red","i":9.8,"v":98},{"s":"red","i":15,"v":98},{"s":"red","i":17.6,"v":86},{"s":"red","i":20.3,"v":42},{"s":"red","i":24.5,"v":5.5},{"s":"red","i":26.3,"v":16},{"s":"red","i":30.1,"v":68},{"s":"red","i":33.9,"v":79},{"s":"red","i":36.9,"v":93},{"s":"red","i":39.1,"v":72},{"s":"red","i":42.1,"v":75},{"s":"red","i":45.2,"v":28},{"s":"red","i":49.7,"v":70},{"s":"red","i":52,"v":75},{"s":"red","i":54.6,"v":68},{"s":"red","i":57.2,"v":20},{"s":"red","i":61,"v":1},{"s":"red","i":63.2,"v":16},{"s":"red","i":67,"v":64},{"s":"red","i":70.7,"v":51},{"s":"red","i":73.3,"v":81},{"s":"red","i":76,"v":38},{"s":"red","i":79.8,"v":1},{"s":"red","i":93.3,"v":1},{"s":"red","i":97.1,"v":32},{"s":"red","i":101.6,"v":2},{"s":"red","i":103.8,"v":1},{"s":"red","i":105.8,"v":5.5},{"s":"red","i":108.4,"v":5.5},{"s":"red","i":112.9,"v":49},{"s":"red","i":116.3,"v":31},{"s":"red","i":120.9,"v":94},{"s":"red","i":123.4,"v":71},{"s":"red","i":128.7,"v":9},{"s":"red","i":134.7,"v":82},{"s":"red","i":140,"v":37},{"s":"red","i":143.7,"v":77},{"s":"red","i":147.5,"v":36},{"s":"red","i":149.8,"v":48},{"s":"red","i":153.5,"v":13},{"s":"red","i":155.8,"v":37},{"s":"red","i":158.3,"v":16},{"s":"red","i":160.6,"v":37},{"s":"red","i":164,"v":1},{"s":"red","i":167.5,"v":1},{"s":"red","i":172,"v":54},{"s":"red","i":178.3,"v":1},{"s":"red","i":185.9,"v":88},{"s":"red","i":190.4,"v":53},{"s":"red","i":193.8,"v":84},{"s":"red","i":199.4,"v":9},{"s":"red","i":203.2,"v":42},{"s":"red","i":209.6,"v":92},{"s":"red","i":213,"v":55},{"s":"red","i":217.5,"v":20},{"s":"red","i":220.8,"v":57},{"s":"red","i":225,"v":9},{"s":"red","i":228.4,"v":1},{"s":"red","i":231.4,"v":19},{"s":"red","i":234.3,"v":33},{"s":"red","i":237.2,"v":23},{"s":"red","i":239.3,"v":38},{"s":"red","i":241.8,"v":87},{"s":"red","i":244.3,"v":99},{"s":"red","i":246.3,"v":91},{"s":"red","i":249.3,"v":47},{"s":"red","i":252.6,"v":23},{"s":"red","i":255,"v":43},{"s":"red","i":259.5,"v":79},{"s":"red","i":260.9,"v":74},{"s":"red","i":263.5,"v":36},{"s":"red","i":267.1,"v":12},{"s":"red","i":269.3,"v":1},{"s":"red","i":272.5,"v":1},{"s":"red","i":276.5,"v":33},{"s":"red","i":280,"v":3},{"s":"red","i":281.4,"v":1},{"s":"red","i":287.2,"v":1},{"s":"red","i":290.3,"v":24},{"s":"red","i":293.9,"v":1},{"s":"red","i":296.1,"v":1},{"s":"red","i":302.8,"v":72},{"s":"red","i":305.5,"v":56},{"s":"red","i":307.3,"v":52},{"s":"red","i":311.8,"v":7},{"s":"red","i":314,"v":14},{"s":"red","i":318.9,"v":70},{"s":"red","i":322,"v":34},{"s":"red","i":326,"v":4},{"s":"red","i":329,"v":15},{"s":"red","i":331.8,"v":1},{"s":"red","i":343.4,"v":1},{"s":"red","i":346.1,"v":27},{"s":"red","i":349.3,"v":55},{"s":"red","i":352.4,"v":30},{"s":"red","i":355.1,"v":32},{"s":"red","i":358.6,"v":1},{"s":"red","i":365.3,"v":1},{"s":"red","i":368,"v":25},{"s":"red","i":370.7,"v":25},{"s":"red","i":372.9,"v":33},{"s":"red","i":376.9,"v":1},{"s":"red","i":379.2,"v":27},{"s":"red","i":385,"v":91},{"s":"red","i":386,"v":95}]},
"vconcat":[
{"width":1885,"height":807,
"encoding":{"x":{"field":"i","type":"quantitative","scale":{"domain":[0,471.25],"nice":false,"zero":false,"padding":0},"axis":null},"y":{"field":"p","type":"quantitative","scale":{"domain":[1.64921,1.68039],"nice":false,"zero":false},"axis":{"orient":"right","offset":-46,"title":null,"grid":false,"domain":false,"tickSize":4,"tickColor":"#000","labelColor":"#000","labelFont":"Liberation Sans","labelFontSize":9.5,"labelPadding":2,"labelOverlap":false,"labelBound":false,"format":".5f","values":[1.67995,1.67865,1.6774,1.6761,1.67485,1.67355,1.6723,1.671,1.66975,1.66845,1.6672,1.6659,1.66465,1.66335,1.6621,1.6608,1.6595,1.65825,1.657,1.6557,1.65445,1.65315,1.6519,1.6506,1.6493]}}},
"layer":[
{"data":{"values":[{"i":206,"b":215,"p":1.66823,"q":1.67067},{"i":0,"b":21.75,"p":1.66735,"q":1.6691}]},"mark":{"type":"rect","color":"#ffff00"},"encoding":{"x2":{"field":"b"},"y2":{"field":"q"}}},
{"data":{"name":"mas"},"transform":[{"filter":"datum.s=='a'"}],"mark":{"type":"line","color":"#ffff00","strokeWidth":2.2}},
{"data":{"name":"mas"},"transform":[{"filter":"datum.s=='b'"}],"mark":{"type":"line","color":"#000000","strokeWidth":2.2}},
{"data":{"name":"mas"},"transform":[{"filter":"datum.s=='c'"}],"mark":{"type":"line","color":"#ffffff","strokeWidth":2.2}},
{"data":{"name":"mas"},"transform":[{"filter":"datum.s=='d'"}],"mark":{"type":"line","color":"#000000","strokeWidth":3.4}},
{"data":{"name":"mas"},"transform":[{"filter":"datum.s=='e'"}],"mark":{"type":"line","color":"#ff0000","strokeWidth":3.8}},
{"data":{"name":"bars"},"mark":{"type":"rule","strokeWidth":1.2},"encoding":{"y":{"field":"l","type":"quantitative","scale":{"domain":[1.64921,1.68039],"nice":false,"zero":false},"axis":{"orient":"right","offset":-46,"title":null,"grid":false,"domain":false,"tickSize":4,"tickColor":"#000","labelColor":"#000","labelFont":"Liberation Sans","labelFontSize":9.5,"labelPadding":2,"labelOverlap":false,"labelBound":false,"format":".5f","values":[1.67995,1.67865,1.6774,1.6761,1.67485,1.67355,1.6723,1.671,1.66975,1.66845,1.6672,1.6659,1.66465,1.66335,1.6621,1.6608,1.6595,1.65825,1.657,1.6557,1.65445,1.65315,1.6519,1.6506,1.6493]}},"y2":{"field":"h"},"color":{"condition":{"test":"datum.c>=datum.o","value":"#0000ff"},"value":"#d8161f"}}},
{"data":{"name":"bars"},"mark":{"type":"bar","size":4.2},"encoding":{"y":{"field":"o","type":"quantitative","scale":{"domain":[1.64921,1.68039],"nice":false,"zero":false},"axis":{"orient":"right","offset":-46,"title":null,"grid":false,"domain":false,"tickSize":4,"tickColor":"#000","labelColor":"#000","labelFont":"Liberation Sans","labelFontSize":9.5,"labelPadding":2,"labelOverlap":false,"labelBound":false,"format":".5f","values":[1.67995,1.67865,1.6774,1.6761,1.67485,1.67355,1.6723,1.671,1.66975,1.66845,1.6672,1.6659,1.66465,1.66335,1.6621,1.6608,1.6595,1.65825,1.657,1.6557,1.65445,1.65315,1.6519,1.6506,1.6493]}},"y2":{"field":"c"},"color":{"condition":{"test":"datum.c>=datum.o","value":"#0000ff"},"value":"#ff0000"}}},
{"data":{"name":"segs"},"transform":[{"filter":"datum.k=='yellow'"}],"mark":{"type":"rule","color":"#ffff00","strokeWidth":1.5},"encoding":{"x2":{"field":"b"}}},
{"data":{"name":"segs"},"transform":[{"filter":"datum.k=='green'"}],"mark":{"type":"rule","color":"#008000","strokeWidth":1.3,"strokeDash":[9,4,2,4]},"encoding":{"x2":{"field":"b"}}},
{"data":{"name":"segs"},"transform":[{"filter":"datum.k=='orange'"}],"mark":{"type":"rule","color":"#ff4500","strokeWidth":1.3,"strokeDash":[9,4,2,4]},"encoding":{"x2":{"field":"b"}}},
{"data":{"name":"segs"},"transform":[{"filter":"datum.k=='red'"}],"mark":{"type":"rule","color":"#e00010","strokeWidth":1.2},"encoding":{"x2":{"field":"b"}}},
{"data":{"name":"segs"},"transform":[{"filter":"datum.k=='dot'"}],"mark":{"type":"rule","color":"#ffffff","strokeWidth":1,"strokeDash":[3,2]},"encoding":{"x2":{"field":"b"}}},
{"data":{"name":"segs"},"transform":[{"filter":"datum.k=='white'"}],"mark":{"type":"rule","color":"#ffffff","strokeWidth":2.5},"encoding":{"x2":{"field":"b"}}},
{"data":{"name":"segs"},"transform":[{"filter":"datum.k=='crim'"}],"mark":{"type":"rule","color":"#c8102e","strokeWidth":1.2},"encoding":{"x2":{"field":"b"}}},
{"data":{"name":"segs"},"transform":[{"filter":"datum.k=='gsmall'"}],"mark":{"type":"rule","color":"#008000","strokeWidth":1.2},"encoding":{"x2":{"field":"b"}}},
{"data":{"name":"segs"},"transform":[{"filter":"datum.k=='orange2'"}],"mark":{"type":"rule","color":"#ff4500","strokeWidth":2.5},"encoding":{"x2":{"field":"b"}}},
{"data":{"name":"segs"},"transform":[{"filter":"datum.k=='yellow2'"}],"mark":{"type":"rule","color":"#ffff00","strokeWidth":5,"strokeCap":"round"},"encoding":{"x2":{"field":"b"}}},
{"data":{"name":"segs"},"transform":[{"filter":"datum.k=='frame'"}],"mark":{"type":"rule","color":"#000000","strokeWidth":1.5},"encoding":{"x2":{"field":"b"}}},
{"data":{"values":[{"i":0,"p":1.64921,"q":1.68039},{"i":459.75,"p":1.64921,"q":1.68039}]},"mark":{"type":"rule","color":"#000000","strokeWidth":1.5},"encoding":{"y2":{"field":"q"}}},
{"data":{"values":[{"i":211.5,"p":1.66864}]},"mark":{"type":"point","shape":"diamond","filled":true,"color":"#ff0000","stroke":"#ffffff","strokeWidth":0.8,"size":40,"opacity":1}},
{"data":{"values":[{"i":460.5,"b":470.5,"p":1.67421,"q":1.67459},{"i":460.5,"b":470.5,"p":1.66721,"q":1.66759},{"i":460.5,"b":470.5,"p":1.65921,"q":1.65959}]},"mark":{"type":"rect","color":"#ffffff"},"encoding":{"x2":{"field":"b"},"y2":{"field":"q"}}},
{"data":{"values":[{"i":460.5,"b":470.5,"p":1.66625,"q":1.66671}]},"mark":{"type":"rect","color":"#ff0000"},"encoding":{"x2":{"field":"b"},"y2":{"field":"q"}}},
{"data":{"values":[{"i":460.5,"b":470.5,"p":1.65488,"q":1.65534}]},"mark":{"type":"rect","color":"#008000"},"encoding":{"x2":{"field":"b"},"y2":{"field":"q"}}},
{"data":{"values":[{"i":460.5,"b":470.5,"p":1.65361,"q":1.65407}]},"mark":{"type":"rect","color":"#000000"},"encoding":{"x2":{"field":"b"},"y2":{"field":"q"}}},
{"data":{"values":[{"t":"1.67440","i":465.5,"p":1.6744},{"t":"1.66740","i":465.5,"p":1.6674},{"t":"1.65940","i":465.5,"p":1.6594}]},"mark":{"type":"text","font":"Liberation Sans","fontSize":9.5,"align":"center","baseline":"middle","color":"#a8d8f0"},"encoding":{"text":{"field":"t"}}},
{"data":{"values":[{"t":"1.66648","i":465.5,"p":1.66648},{"t":"1.65511","i":465.5,"p":1.65511},{"t":"1.65384","i":465.5,"p":1.65384}]},"mark":{"type":"text","font":"Liberation Sans","fontSize":9.5,"align":"center","baseline":"middle","color":"#ffffff"},"encoding":{"text":{"field":"t"}}},
{"data":{"values":[{"i":409.75,"b":459.75,"p":1.65441,"q":1.6529}]},"mark":{"type":"rect","color":"#1e1e1e","stroke":"#ffffff","strokeWidth":1.5},"encoding":{"x2":{"field":"b"},"y2":{"field":"q"}}},
{"data":{"values":[{"t":"STATUS: RANGE ACTIVE","i":413.25,"p":1.65361}]},"mark":{"type":"text","font":"Liberation Sans","fontWeight":"bold","fontSize":12,"align":"left","baseline":"middle","color":"#00ff00"},"encoding":{"text":{"field":"t"}}},
{"data":{"values":[{"t":"By G.Samdani","i":13,"p":1.67922},{"t":"EURAUD 20 Min","i":173.5,"p":1.67918}]},"mark":{"type":"text","font":"DejaVu Sans","fontWeight":"bold","fontSize":31,"align":"left","baseline":"middle","color":"#0000ff","stroke":"#0000ff","strokeWidth":0.7},"encoding":{"text":{"field":"t"}}},
{"data":{"values":[{"t":"7th Apr 2026","i":394,"p":1.67899}]},"mark":{"type":"text","font":"DejaVu Sans","fontWeight":"bold","fontSize":30,"align":"left","baseline":"middle","color":"#0000ff","stroke":"#0000ff","strokeWidth":0.7},"encoding":{"text":{"field":"t"}}},
{"data":{"values":[{"t":"Sell","i":201.25,"p":1.67293}]},"mark":{"type":"text","font":"DejaVu Sans","fontWeight":"bold","fontSize":41,"align":"left","baseline":"middle","color":"#0000ff","stroke":"#0000ff","strokeWidth":0.7},"encoding":{"text":{"field":"t"}}},
{"data":{"values":[{"t":"↓","i":211.75,"p":1.671}]},"mark":{"type":"text","font":"DejaVu Sans","fontWeight":"bold","fontSize":42,"align":"center","baseline":"middle","color":"#0000ff","stroke":"#0000ff","strokeWidth":1.6},"encoding":{"text":{"field":"t"}}},
{"data":{"values":[{"t":"←Entry","i":18.75,"p":1.66895}]},"mark":{"type":"text","font":"DejaVu Sans","fontWeight":"bold","fontSize":40,"align":"left","baseline":"middle","color":"#000000","stroke":"#000000","strokeWidth":0.7},"encoding":{"text":{"field":"t"}}},
{"data":{"values":[{"t":"150+ Pips So Far","i":151,"p":1.65724}]},"mark":{"type":"text","font":"DejaVu Sans","fontWeight":"bold","fontSize":42,"align":"left","baseline":"middle","color":"#000000","stroke":"#000000","strokeWidth":0.7},"encoding":{"text":{"field":"t"}}},
{"data":{"values":[{"t":"EURAUD,M20  1.65389 1.65397 1.65288 1.65384","i":1,"p":1.68004},{"t":"174","i":1,"p":1.67957},{"t":"CTS 7 ☺","i":448.75,"p":1.68},{"t":"WeeklyPivot","i":348.75,"p":1.67397},{"t":"Weekly S4","i":349.5,"p":1.66373},{"t":"Weekly S2","i":349.5,"p":1.65686},{"t":"#185367657 sell","i":1.75,"p":1.66883},{"t":"#185367657 sl","i":1.75,"p":1.6679}]},"mark":{"type":"text","font":"Liberation Sans","fontSize":9.5,"align":"left","baseline":"middle","color":"#1a1a1a"},"encoding":{"text":{"field":"t"}}}
]},
{"width":1885,"height":91,
"encoding":{"x":{"field":"i","type":"quantitative","scale":{"domain":[0,471.25],"nice":false,"zero":false,"padding":0},"axis":{"orient":"bottom","title":null,"grid":false,"domain":false,"tickSize":3,"tickColor":"#000","labelColor":"#000","labelFont":"Liberation Sans","labelFontSize":9,"labelPadding":2,"labelAlign":"left","labelOverlap":false,"labelBound":false,"labelFlush":false,"values":[0,16,32,48,64,80,96,112,128,144,160,176,192,208,224,240,256,272,288,304,320,336,352,368,384],"labelExpr":"['2 Apr 2026','2 Apr 02:15','2 Apr 02:20','2 Apr 04:05','2 Apr 09:05','2 Apr 13:30','2 Apr 15:50','2 Apr 22:05','3 Apr 13:30','3 Apr 20:55','3 Apr 21:20','6 Apr 10:05','6 Apr 16:41','7 Apr 02:38','7 Apr 09:22','7 Apr 14:40','7 Apr 16:01','7 Apr 18:35','7 Apr 21:59','7 Apr 22:33','7 Apr 23:33','7 Apr 23:38','7 Apr 23:57','8 Apr 00:10','8 Apr 01:22'][datum.value/16]"}},"y":{"field":"v","type":"quantitative","scale":{"domain":[0,100],"nice":false,"zero":false},"axis":null}},
"layer":[
{"data":{"values":[{"i":207,"b":216,"v":34,"q":99}]},"mark":{"type":"rect","color":"#ffff00"},"encoding":{"x2":{"field":"b"},"y2":{"field":"q"}}},
{"data":{"values":[{"t":"Subscribe Today","i":248.75,"v":51.6}]},"mark":{"type":"text","font":"DejaVu Sans","fontWeight":"bold","fontSize":26.5,"align":"left","baseline":"middle","color":"#a6bfe2"},"encoding":{"text":{"field":"t"}}},
{"data":{"values":[{"i":0,"b":459.75,"v":90},{"i":0,"b":459.75,"v":80},{"i":0,"b":459.75,"v":20},{"i":0,"b":459.75,"v":10}]},"mark":{"type":"rule","color":"#ff0000","strokeWidth":1.5},"encoding":{"x2":{"field":"b"}}},
{"data":{"name":"stoch"},"transform":[{"filter":"datum.s=='blue'"}],"mark":{"type":"line","color":"#0000ff","strokeWidth":2}},
{"data":{"name":"stoch"},"transform":[{"filter":"datum.s=='red'"}],"mark":{"type":"line","color":"#ff0000","strokeWidth":2}},
{"data":{"values":[{"i":0,"b":459.75,"v":100},{"i":0,"b":459.75,"v":0}]},"mark":{"type":"rule","color":"#000000","strokeWidth":1.5},"encoding":{"x2":{"field":"b"}}},
{"data":{"values":[{"i":0,"v":0,"q":100},{"i":459.75,"v":0,"q":100}]},"mark":{"type":"rule","color":"#000000","strokeWidth":1.5},"encoding":{"y2":{"field":"q"}}},
{"data":{"values":[{"i":460.25,"b":463.25,"v":85,"q":95},{"i":460.25,"b":463.25,"v":75,"q":85},{"i":460.25,"b":463.25,"v":15,"q":25},{"i":460.25,"b":463.25,"v":5,"q":15}]},"mark":{"type":"rect","color":"#ff0000"},"encoding":{"x2":{"field":"b"},"y2":{"field":"q"}}},
{"data":{"values":[{"t":"90","i":461.75,"v":90},{"t":"80","i":461.75,"v":80},{"t":"20","i":461.75,"v":20},{"t":"10","i":461.75,"v":10}]},"mark":{"type":"text","font":"Liberation Sans","fontSize":9,"align":"center","baseline":"middle","color":"#ffffff"},"encoding":{"text":{"field":"t"}}},
{"data":{"values":[{"t":"100","i":461,"v":92},{"t":"0","i":461,"v":8}]},"mark":{"type":"text","font":"Liberation Sans","fontSize":9.5,"align":"left","baseline":"middle","color":"#000000"},"encoding":{"text":{"field":"t"}}},
{"data":{"values":[{"i":434,"b":437.5,"v":79.1,"q":91.2},{"i":432.5,"b":436.25,"v":71.4,"q":82.4}]},"mark":{"type":"rect","fillOpacity":0,"stroke":"#4682b4","strokeWidth":2},"encoding":{"x2":{"field":"b"},"y2":{"field":"q"}}},
{"data":{"values":[{"i":438,"b":457.25,"v":82.4}]},"mark":{"type":"rule","color":"#a9a9a9","strokeWidth":1},"encoding":{"x2":{"field":"b"}}},
{"data":{"values":[{"i":437.25,"b":457.25,"v":59.3}]},"mark":{"type":"rule","color":"#a9a9a9","strokeWidth":2},"encoding":{"x2":{"field":"b"}}},
{"data":{"values":[{"t":"ISF-WEEKLY PIVOTS","i":434.75,"v":70},{"t":"ISF-WEEKLY PIVOTS","i":436,"v":70}]},"mark":{"type":"text","font":"Liberation Sans","fontSize":9,"align":"left","baseline":"middle","color":"#a0a0a0"},"encoding":{"text":{"field":"t"}}},
{"data":{"values":[{"t":"R3 - 1.68908","i":437.25,"v":46},{"t":"R3 1.67907","i":439,"v":46}]},"mark":{"type":"text","font":"Liberation Sans","fontSize":12,"align":"left","baseline":"middle","color":"#8b0000"},"encoding":{"text":{"field":"t"}}},
{"data":{"values":[{"t":"R2 - 1.67098","i":437.25,"v":23},{"t":"R2 1.67792","i":439,"v":23},{"t":"R1 - 1.66638","i":437.25,"v":3},{"t":"R1 1.66641","i":439,"v":3}]},"mark":{"type":"text","font":"Liberation Sans","fontSize":12,"align":"left","baseline":"middle","color":"#dc143c"},"encoding":{"text":{"field":"t"}}},
{"data":{"values":[{"t":"SAMS Hi,Lo,Cross 98.8676 96.3782","i":1,"v":89}]},"mark":{"type":"text","font":"Liberation Sans","fontSize":9.5,"align":"left","baseline":"middle","color":"#1a1a1a"},"encoding":{"text":{"field":"t"}}},
{"data":{"values":[{"t":"CreativeTradingSystems.com","i":25.25,"v":51.6}]},"mark":{"type":"text","font":"DejaVu Sans","fontWeight":"bold","fontSize":26,"align":"left","baseline":"middle","color":"#000000","stroke":"#000000","strokeWidth":0.6},"encoding":{"text":{"field":"t"}}},
{"data":{"values":[{"t":"ElliottWaveMaster.com","i":349.25,"v":52.7}]},"mark":{"type":"text","font":"DejaVu Sans","fontWeight":"bold","fontSize":27,"align":"left","baseline":"middle","color":"#000000","stroke":"#000000","strokeWidth":0.6},"encoding":{"text":{"field":"t"}}}
]}
]}
